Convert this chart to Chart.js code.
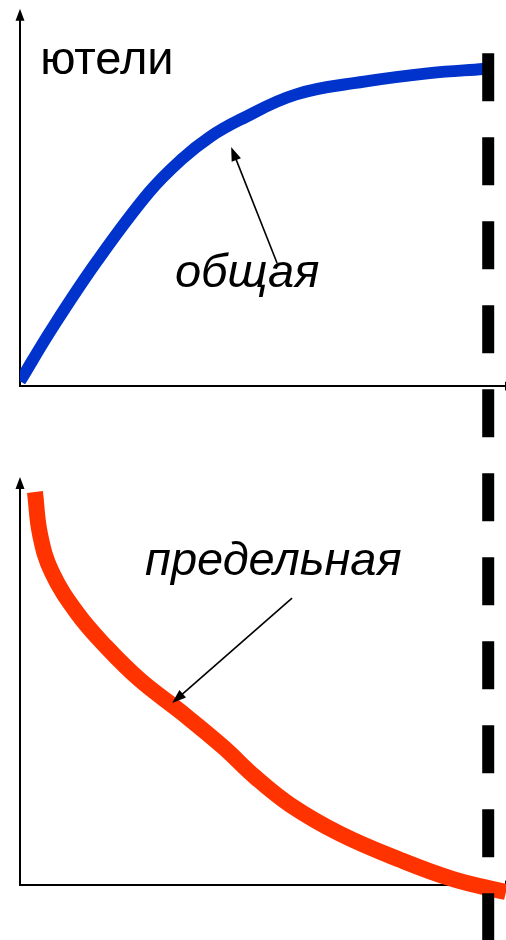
<!DOCTYPE html>
<html>
<head>
<meta charset="utf-8">
<script src="https://cdn.jsdelivr.net/npm/chart.js@4/dist/chart.umd.min.js"></script>
<style>
  html, body { margin: 0; padding: 0; background: #ffffff; }
  #wrap { width: 506px; height: 940px; position: relative; }
</style>
</head>
<body>
<div id="wrap"><canvas id="c" width="506" height="940"></canvas></div>
<script>
// ---- data ----
// total utility (top panel)
const totalX = [0, 0.7, 1.65, 2.75, 3.45, 4.05, 4.7, 5.9, 7.35, 8.75, 9.9];
const totalU = [1.5, 18.5, 39.5, 61, 71.5, 78.5, 84, 92, 96, 98.7, 100];
// marginal utility (bottom panel)
const margX = [0.32, 0.43, 0.68, 1.22, 1.84, 2.56, 3.46, 4.34, 5.02, 5.77, 6.84, 8.12, 9.25, 10.38];
const margU = [100, 89.1, 79.6, 69.2, 60.6, 52.2, 43.8, 35.1, 27.5, 20.4, 13.0, 6.4, 1.5, -1.8];
// saturation point (dashed vertical line)
const satX = [10, 10];
const satU = [105, -180];
// labels
const labelTop = 'ютели';
const labelTotal = 'общая';
const labelMarg = 'предельная';

const toPts = (xs, ys) => xs.map((x, i) => ({ x: x, y: ys[i] }));

// ---- drawing helpers ----
function arrowHead(ctx, x1, y1, x2, y2, len, half) {
  const a = Math.atan2(y2 - y1, x2 - x1);
  ctx.beginPath();
  ctx.moveTo(x2, y2);
  ctx.lineTo(x2 - len * Math.cos(a) + half * Math.sin(a), y2 - len * Math.sin(a) - half * Math.cos(a));
  ctx.lineTo(x2 - len * Math.cos(a) - half * Math.sin(a), y2 - len * Math.sin(a) + half * Math.cos(a));
  ctx.closePath();
  ctx.fill();
}

const axesPlugin = {
  id: 'axesArrows',
  beforeDatasetsDraw(chart) {
    const ctx = chart.ctx;
    const xs = chart.scales.x;
    const panels = [
      { s: chart.scales.yTop, top: 119 },
      { s: chart.scales.yBot, top: 103.8 }
    ];
    ctx.save();
    ctx.strokeStyle = '#000';
    ctx.fillStyle = '#000';
    ctx.lineWidth = 2;
    panels.forEach(p => {
      const x0 = xs.getPixelForValue(0);
      const y0 = p.s.getPixelForValue(0);
      const yTop = p.s.getPixelForValue(p.top);
      ctx.beginPath();
      ctx.moveTo(x0, y0);
      ctx.lineTo(x0, yTop + 10);
      ctx.stroke();
      arrowHead(ctx, x0, y0, x0, yTop, 12, 4.5);
      const xEnd = chart.chartArea.right + 11;
      ctx.beginPath();
      ctx.moveTo(x0 - 1, y0);
      ctx.lineTo(xEnd - 10, y0);
      ctx.stroke();
      arrowHead(ctx, x0, y0, xEnd, y0, 12, 4.5);
    });
    ctx.restore();
  },
  afterDatasetsDraw(chart) {
    const ctx = chart.ctx;
    const xs = chart.scales.x, yt = chart.scales.yTop, yb = chart.scales.yBot;
    ctx.save();
    ctx.fillStyle = '#000';
    ctx.textBaseline = 'alphabetic';
    ctx.textAlign = 'left';
    ctx.font = '47px "Liberation Sans", Arial, sans-serif';
    ctx.fillText(labelTop, xs.getPixelForValue(0.43), yt.getPixelForValue(98.4));
    ctx.font = 'italic 47px "Liberation Sans", Arial, sans-serif';
    ctx.fillText(labelTotal, xs.getPixelForValue(3.31), yt.getPixelForValue(31.2));
    ctx.fillText(labelMarg, xs.getPixelForValue(2.67), yb.getPixelForValue(78.9));
    ctx.strokeStyle = '#000';
    ctx.lineWidth = 1.6;
    const arrows = [
      [xs.getPixelForValue(5.49), yt.getPixelForValue(38.8), xs.getPixelForValue(4.51), yt.getPixelForValue(75.4)],
      [xs.getPixelForValue(5.81), yb.getPixelForValue(73.0), xs.getPixelForValue(3.25), yb.getPixelForValue(46.3)]
    ];
    arrows.forEach(a => {
      const ang = Math.atan2(a[3] - a[1], a[2] - a[0]);
      ctx.beginPath();
      ctx.moveTo(a[0], a[1]);
      ctx.lineTo(a[2] - 9 * Math.cos(ang), a[3] - 9 * Math.sin(ang));
      ctx.stroke();
      arrowHead(ctx, a[0], a[1], a[2], a[3], 14, 5);
    });
    ctx.restore();
  }
};

new Chart(document.getElementById('c'), {
  type: 'line',
  data: {
    datasets: [
      {
        label: 'saturation',
        data: toPts(satX, satU),
        yAxisID: 'yTop',
        borderColor: '#000000',
        borderWidth: 12,
        borderDash: [48, 36],
        borderCapStyle: 'butt',
        pointRadius: 0,
        tension: 0,
        order: 0
      },
      {
        label: 'общая',
        data: toPts(totalX, totalU),
        yAxisID: 'yTop',
        borderColor: '#0033CC',
        borderWidth: 12,
        borderCapStyle: 'butt',
        borderJoinStyle: 'round',
        pointRadius: 0,
        tension: 0.4,
        order: 1
      },
      {
        label: 'предельная',
        data: toPts(margX, margU),
        yAxisID: 'yBot',
        borderColor: '#FF3300',
        borderWidth: 16,
        borderCapStyle: 'butt',
        borderJoinStyle: 'round',
        pointRadius: 0,
        tension: 0.4,
        order: 1
      }
    ]
  },
  options: {
    responsive: false,
    animation: false,
    devicePixelRatio: 1,
    layout: { padding: { left: 20, right: 0, top: 0, bottom: 0 } },
    plugins: { legend: { display: false }, tooltip: { enabled: false } },
    scales: {
      x: { type: 'linear', min: 0, max: 10.38, display: false },
      yTop: { type: 'linear', min: -174.76, max: 121.77, display: false },
      yBot: { type: 'linear', min: -14.0, max: 225.19, display: false }
    }
  },
  plugins: [axesPlugin]
});
</script>
</body>
</html>
